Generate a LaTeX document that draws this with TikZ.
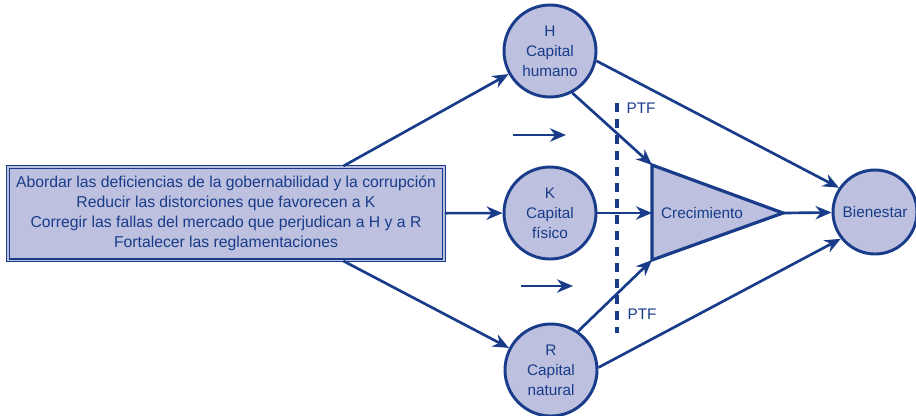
\documentclass[tikz,border=0pt]{standalone}
\usepackage{fontspec}
\setmainfont{Liberation Sans}
\usetikzlibrary{positioning,arrows.meta}
\definecolor{azul}{RGB}{24,60,138}
\definecolor{lila}{RGB}{189,192,222}
\tikzset{
	capital/.style={circle,draw=azul,fill=lila,line width=2.2pt,minimum size=69pt,inner sep=0pt,align=center,text=azul,font=\fontsize{11.5}{15}\selectfont},
	cuadro/.style={rectangle,draw=azul,fill=lila,line width=1.2pt,double=lila,double distance=1pt,minimum width=327pt,minimum height=70pt,align=center,text=azul,font=\fontsize{11.8}{15}\selectfont},
	texto/.style={text=azul,font=\fontsize{11.5}{15}\selectfont},
	flecha/.style={draw=azul,line width=2pt,-{Stealth[length=12pt,width=10pt]}},
}
\begin{document}
\begin{tikzpicture}[x=0.75pt,y=-0.75pt]
		
		\useasboundingbox (0,0) rectangle (916,415);
		
		% medidas
		\node[cuadro] (acciones) at (226,213.5)
		{Abordar las deficiencias de la gobernabilidad y la corrupción\\
		Reducir las distorciones que favorecen a K\\
		Corregir las fallas del mercado que perjudican a H y a R\\
		Fortalecer las reglamentaciones};
		
		% capitales
		\node[capital] (capH) at (550,51)
		{H\\Capital\\humano};
		
		\node[capital] (capK) at (550,213)
		{K\\Capital\\físico};
		
		\node[capital] (capR) at (551,370)
		{R\\Capital\\natural};
		
		\node[capital,minimum size=63pt] (bienestar) at (875,212)
		{Bienestar};
		
		% triangulo
		\coordinate (triSup) at (652,165);
		\coordinate (triInf) at (652,260);
		\coordinate (triIzq) at (652,213);
		\coordinate (triPunta) at (783,213);
		
		\draw[azul,fill=lila,line width=2.4pt,line join=miter]
		(triSup) -- (triPunta) -- (triInf) -- cycle;
		
		\node[texto] (crecimiento) at (702,213)
		{Crecimiento};
		
		% PTF
		\draw[azul,line width=3pt,dash pattern=on 7pt off 5pt]
		(617,103) -- (617,333);
		
		\node[texto] (ptfA) at (641,108)
		{PTF};
		
		\node[texto] (ptfB) at (642,314)
		{PTF};
		
		% flechas
		\draw[flecha]
		([xshift=88pt]acciones.north) -- (capH);
		
		\draw[flecha]
		(acciones) -- (capK);
		
		\draw[flecha]
		([xshift=88pt]acciones.south) -- (capR);
		
		\draw[flecha]
		(capH.-62) -- (triSup);
		
		\draw[flecha]
		(capK) -- (triIzq);
		
		\draw[flecha]
		(capR.55) -- (triInf);
		
		\draw[flecha]
		(capH.-12) -- (bienestar.146);
		
		\draw[flecha]
		(triPunta) -- (bienestar);
		
		\draw[flecha]
		(capR.3) -- (bienestar.-142);
		
		\coordinate (libreA) at (513,135);
		\coordinate (libreB) at (566,135);
		\coordinate (libreC) at (521,286);
		\coordinate (libreD) at (573,286);
		
		\draw[flecha]
		(libreA) -- (libreB);
		
		\draw[flecha]
		(libreC) -- (libreD);
		
	\end{tikzpicture}
\end{document}
